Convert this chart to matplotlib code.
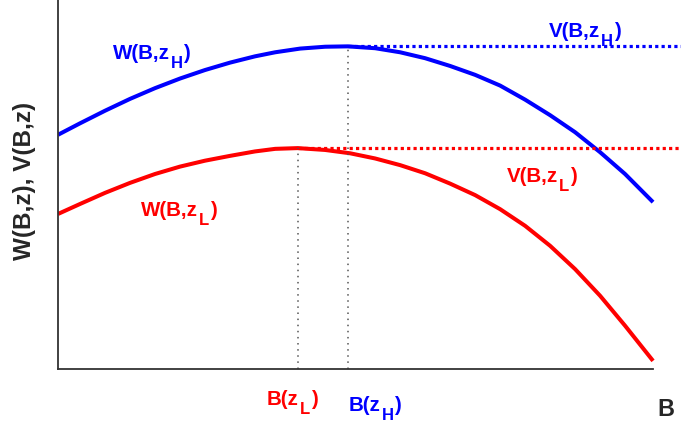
import matplotlib
matplotlib.use("Agg")
import matplotlib.pyplot as plt

plt.rcParams['font.family'] = ['Liberation Sans', 'DejaVu Sans']

# Data (B on 0..100 scale, values on 0..100 scale)
B_high = [0.0, 3.7, 7.9, 12.1, 16.3, 20.5, 24.7, 28.9, 33.1, 36.5, 40.7, 44.9, 48.7,
          53.3, 57.5, 61.7, 65.9, 70.1, 74.3, 78.5, 82.7, 86.9, 91.1, 95.3, 100.0]
W_high = [63.3, 66.4, 69.8, 73.0, 75.9, 78.5, 80.8, 82.8, 84.5, 85.6, 86.6, 87.1, 87.2,
          86.7, 85.6, 84.0, 81.9, 79.5, 76.6, 72.8, 68.6, 64.0, 58.6, 52.7, 45.1]
B_low = [0.0, 3.7, 7.9, 12.1, 16.3, 20.5, 24.7, 28.9, 33.1, 36.5, 40.3, 44.9, 49.1,
         53.3, 57.5, 61.7, 65.9, 70.1, 74.3, 78.5, 82.7, 86.9, 91.1, 95.3, 100.0]
W_low = [41.9, 44.6, 47.6, 50.3, 52.7, 54.7, 56.3, 57.6, 58.8, 59.5, 59.7, 59.2, 58.3,
         56.9, 55.1, 52.9, 50.1, 47.0, 43.2, 38.7, 33.3, 27.0, 19.8, 11.7, 2.2]
B_star_high = 48.7
V_high = 87.2
B_star_low = 40.3
V_low = 59.7
x_max = 104.7

BLUE = '#0000ff'
RED = '#ff0000'
DARK = '#262626'

W, H = 681, 427
fig = plt.figure(figsize=(W / 100, H / 100), dpi=100)
ax = fig.add_axes([58 / W, (H - 370) / H, (W - 58) / W, 370 / H])
ax.set_xlim(0, x_max)
ax.set_ylim(0, 100)

ax.plot(B_high, W_high, color=BLUE, lw=2.9, solid_capstyle='butt', solid_joinstyle='round')
ax.plot(B_low, W_low, color=RED, lw=2.9, solid_capstyle='butt', solid_joinstyle='round')

ax.plot([B_star_high, x_max], [V_high, V_high], color=BLUE, lw=2.3,
        linestyle=(0, (1, 1)), clip_on=False)
ax.plot([B_star_low, x_max], [V_low, V_low], color=RED, lw=2.3,
        linestyle=(0, (1, 1)), clip_on=False)

ax.plot([B_star_high, B_star_high], [0, V_high], color='#555555', lw=1.1,
        linestyle=(0, (1, 3)))
ax.plot([B_star_low, B_star_low], [0, V_low], color='#555555', lw=1.1,
        linestyle=(0, (1, 3)))

for s in ['top', 'right']:
    ax.spines[s].set_visible(False)
for s in ['left', 'bottom']:
    ax.spines[s].set_color('#333333')
    ax.spines[s].set_linewidth(1.3)
ax.spines['bottom'].set_bounds(0, 100)
ax.set_xticks([])
ax.set_yticks([])

renderer = fig.canvas.get_renderer()


def sublabel(x, base, main, sub, color, fs=14.8, sfs=12, drop=9.5, gap=1.0):
    t1 = fig.text(x / W, 1 - base / H, main, fontsize=fs, fontweight='bold',
                  color=color, ha='left', va='baseline')
    x2 = t1.get_window_extent(renderer).x1 + gap
    t2 = fig.text(x2 / W, 1 - (base + drop) / H, sub, fontsize=sfs, fontweight='bold',
                  color=color, ha='left', va='baseline')
    x3 = t2.get_window_extent(renderer).x1 + 0.5
    fig.text(x3 / W, 1 - base / H, ')', fontsize=fs, fontweight='bold',
             color=color, ha='left', va='baseline')


sublabel(113, 59, 'W(B,z', 'H', BLUE)
sublabel(549, 37, 'V(B,z', 'H', BLUE)
sublabel(507, 182, 'V(B,z', 'L', RED)
sublabel(141, 216, 'W(B,z', 'L', RED)
sublabel(267, 405, 'B(z', 'L', RED)
sublabel(349, 411, 'B(z', 'H', BLUE)

fig.text(657 / W, 1 - 416 / H, 'B', color=DARK, fontsize=16.8, fontweight='bold',
         ha='left', va='baseline')
fig.text(24 / W, 1 - 181 / H, 'W(B,z), V(B,z)', color=DARK, fontsize=17.5,
         fontweight='bold', rotation=90, ha='center', va='center')

fig.savefig('out.png', dpi=100)
